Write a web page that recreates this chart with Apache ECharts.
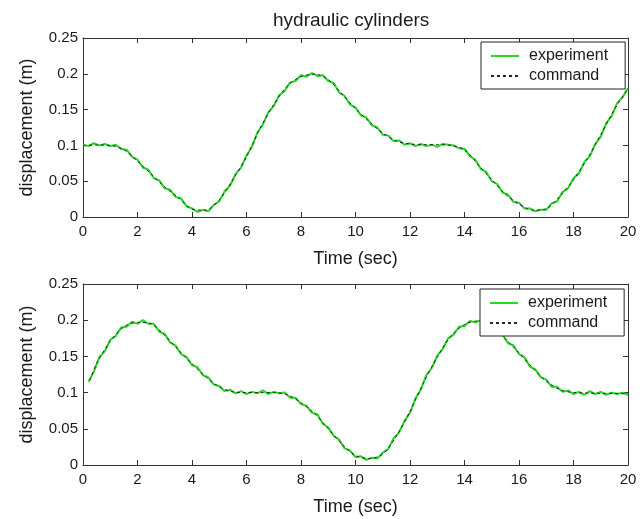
<!DOCTYPE html>
<html>
<head>
<meta charset="utf-8">
<title>hydraulic cylinders</title>
<script src="https://cdn.jsdelivr.net/npm/echarts@6.0.0/dist/echarts.min.js"></script>
<style>
html, body { margin: 0; padding: 0; background: #fff; }
#chart { width: 644px; height: 519px; }
</style>
</head>
<body>
<div id="chart"></div>
<script>
// axis ranges
const xMin = 0, xMax = 20, xStep = 2
const yMin = 0, yMax = 0.25, yStep = 0.05

// command (reference) signal, read at 0.5 s
const cmdTimeTop = [0, 0.5, 1, 1.5, 2, 2.5, 3, 3.5, 4, 4.5, 5, 5.5, 6, 6.5, 7, 7.5, 8, 8.5, 9, 9.5,
  10, 10.5, 11, 11.5, 12, 12.5, 13, 13.5, 14, 14.5, 15, 15.5, 16, 16.5, 17, 17.5, 18, 18.5, 19, 19.5, 20]
const cmdTop = [0.100, 0.1005, 0.100, 0.094, 0.078, 0.060, 0.042, 0.027, 0.011, 0.0095,
  0.024, 0.052, 0.084, 0.124, 0.157, 0.183, 0.196, 0.1995, 0.192, 0.172,
  0.151, 0.1335, 0.117, 0.106, 0.102, 0.101, 0.101, 0.100, 0.094, 0.073,
  0.052, 0.032, 0.018, 0.0095, 0.0115, 0.029, 0.052, 0.081, 0.115, 0.150,
  0.180]

const cmdTimeBottom = [0.25, 0.5, 1, 1.5, 2, 2.5, 3, 3.5, 4, 4.5, 5, 5.5, 6, 6.5, 7, 7.5, 8, 8.5, 9, 9.5,
  10, 10.5, 11, 11.5, 12, 12.5, 13, 13.5, 14, 14.5, 15, 15.5, 16, 16.5, 17, 17.5, 18, 18.5, 19, 19.5, 20]
const cmdBottom = [0.117, 0.140, 0.171, 0.191, 0.197, 0.195, 0.179, 0.159, 0.140, 0.122,
  0.108, 0.101, 0.100, 0.100, 0.100, 0.097, 0.086, 0.071, 0.050, 0.029,
  0.013, 0.009, 0.015, 0.040, 0.074, 0.114, 0.149, 0.178, 0.194, 0.199,
  0.191, 0.174, 0.155, 0.134, 0.116, 0.104, 0.100, 0.0995, 0.099, 0.099,
  0.098]

// measured (experiment) signal, sampled every 0.2 s
const expStep = 0.2
const expStartTop = 0
const expTop = [
  0.101, 0.099, 0.103, 0.100, 0.102, 0.099, 0.101, 0.095, 0.094, 0.084,
  0.080, 0.069, 0.066, 0.054, 0.051, 0.040, 0.038, 0.028, 0.026, 0.015,
  0.012, 0.007, 0.010, 0.008, 0.017, 0.022, 0.036, 0.044, 0.060, 0.069,
  0.086, 0.098, 0.118, 0.129, 0.146, 0.155, 0.170, 0.176, 0.188, 0.190,
  0.198, 0.196, 0.201, 0.197, 0.198, 0.190, 0.187, 0.174, 0.169, 0.157,
  0.153, 0.142, 0.139, 0.128, 0.125, 0.115, 0.114, 0.106, 0.107, 0.101,
  0.103, 0.099, 0.102, 0.099, 0.101, 0.098, 0.102, 0.101, 0.100, 0.096,
  0.095, 0.085, 0.080, 0.067, 0.063, 0.050, 0.046, 0.034, 0.031, 0.021,
  0.020, 0.012, 0.012, 0.008, 0.010, 0.010, 0.019, 0.022, 0.035, 0.040,
  0.054, 0.061, 0.077, 0.085, 0.102, 0.112, 0.131, 0.141, 0.159, 0.167,
  0.180
]
const expStartBottom = 0.2
const expBottom = [
  0.115, 0.129, 0.149, 0.157, 0.173, 0.178, 0.190, 0.191, 0.198, 0.195,
  0.200, 0.195, 0.195, 0.184, 0.181, 0.169, 0.165, 0.153, 0.149, 0.138,
  0.135, 0.124, 0.121, 0.111, 0.109, 0.102, 0.104, 0.099, 0.102, 0.098,
  0.101, 0.099, 0.103, 0.098, 0.101, 0.099, 0.100, 0.093, 0.093, 0.084,
  0.082, 0.072, 0.070, 0.057, 0.052, 0.040, 0.035, 0.023, 0.020, 0.011,
  0.012, 0.007, 0.010, 0.009, 0.017, 0.022, 0.037, 0.045, 0.061, 0.072,
  0.092, 0.104, 0.124, 0.134, 0.151, 0.160, 0.175, 0.180, 0.191, 0.192,
  0.199, 0.197, 0.200, 0.193, 0.193, 0.183, 0.180, 0.168, 0.165, 0.153,
  0.149, 0.136, 0.132, 0.121, 0.118, 0.108, 0.108, 0.101, 0.103, 0.098,
  0.101, 0.097, 0.102, 0.098, 0.101, 0.097, 0.100, 0.098, 0.100, 0.097
]

const font = '"Liberation Sans", Arial, sans-serif'
const axisColor = '#333'
const textColor = '#1a1a1a'
const green = '#22d822'

function zipTimes(times, values) {
  return values.map((v, i) => [times[i], v])
}
function sampled(start, values) {
  return values.map((v, i) => [+(start + i * expStep).toFixed(2), v])
}

function xAxisFor(gridIndex, position) {
  const main = position === 'bottom'
  return {
    type: 'value',
    gridIndex,
    position,
    min: xMin,
    max: xMax,
    interval: xStep,
    name: main ? 'Time (sec)' : '',
    nameLocation: 'middle',
    nameGap: 33,
    nameTextStyle: { fontSize: 18, color: textColor, fontFamily: font },
    axisLine: { show: true, onZero: false, lineStyle: { color: axisColor, width: 1 } },
    axisTick: { show: true, inside: true, length: 5, lineStyle: { color: axisColor } },
    axisLabel: { show: main, margin: 7, fontSize: 15, color: textColor, fontFamily: font },
    splitLine: { show: false }
  }
}

function yAxisFor(gridIndex, position) {
  const main = position === 'left'
  return {
    type: 'value',
    gridIndex,
    position,
    min: yMin,
    max: yMax,
    interval: yStep,
    name: main ? 'displacement (m)' : '',
    nameLocation: 'middle',
    nameRotate: 90,
    nameGap: 47,
    nameTextStyle: { fontSize: 18, color: textColor, fontFamily: font },
    axisLine: { show: true, onZero: false, lineStyle: { color: axisColor, width: 1 } },
    axisTick: { show: true, inside: true, length: 5, lineStyle: { color: axisColor } },
    axisLabel: { show: main, margin: 5, fontSize: 15, color: textColor, fontFamily: font },
    splitLine: { show: false }
  }
}

function legendAt(left, top) {
  return {
    left,
    top,
    orient: 'vertical',
    data: ['experiment', 'command'],
    backgroundColor: '#fff',
    borderColor: '#222',
    borderWidth: 1,
    padding: [4, 17, 3, 9],
    itemWidth: 28,
    itemHeight: 14,
    itemGap: 0,
    selectedMode: false,
    itemStyle: { opacity: 0 },
    textStyle: { fontSize: 16, color: textColor, fontFamily: font, lineHeight: 20, padding: [0, 0, 0, 5] }
  }
}

function expSeries(xi, data) {
  return {
    name: 'experiment',
    type: 'line',
    xAxisIndex: xi,
    yAxisIndex: xi,
    data,
    symbol: 'none',
    lineStyle: { color: green, width: 2 },
    itemStyle: { color: green },
    z: 2
  }
}

function cmdSeries(xi, data) {
  return {
    name: 'command',
    type: 'line',
    xAxisIndex: xi,
    yAxisIndex: xi,
    data,
    symbol: 'none',
    smooth: 0.3,
    lineStyle: { color: '#222', width: 1, type: [3, 3] },
    itemStyle: { color: '#222' },
    z: 3
  }
}

const chart = echarts.init(document.getElementById('chart'))
chart.setOption({
  animation: false,
  backgroundColor: '#fff',
  title: {
    text: 'hydraulic cylinders',
    left: 268,
    top: 6,
    textStyle: { fontSize: 19, fontWeight: 'normal', color: textColor, fontFamily: font }
  },
  grid: [
    { left: 83, top: 38, width: 545, height: 179 },
    { left: 83, top: 284, width: 545, height: 181 }
  ],
  legend: [legendAt(481, 42), legendAt(480, 289)],
  xAxis: [xAxisFor(0, 'bottom'), xAxisFor(0, 'top'), xAxisFor(1, 'bottom'), xAxisFor(1, 'top')],
  yAxis: [yAxisFor(0, 'left'), yAxisFor(0, 'right'), yAxisFor(1, 'left'), yAxisFor(1, 'right')],
  series: [
    expSeries(0, sampled(expStartTop, expTop)),
    cmdSeries(0, zipTimes(cmdTimeTop, cmdTop)),
    expSeries(2, sampled(expStartBottom, expBottom)),
    cmdSeries(2, zipTimes(cmdTimeBottom, cmdBottom))
  ]
})
</script>
</body>
</html>
